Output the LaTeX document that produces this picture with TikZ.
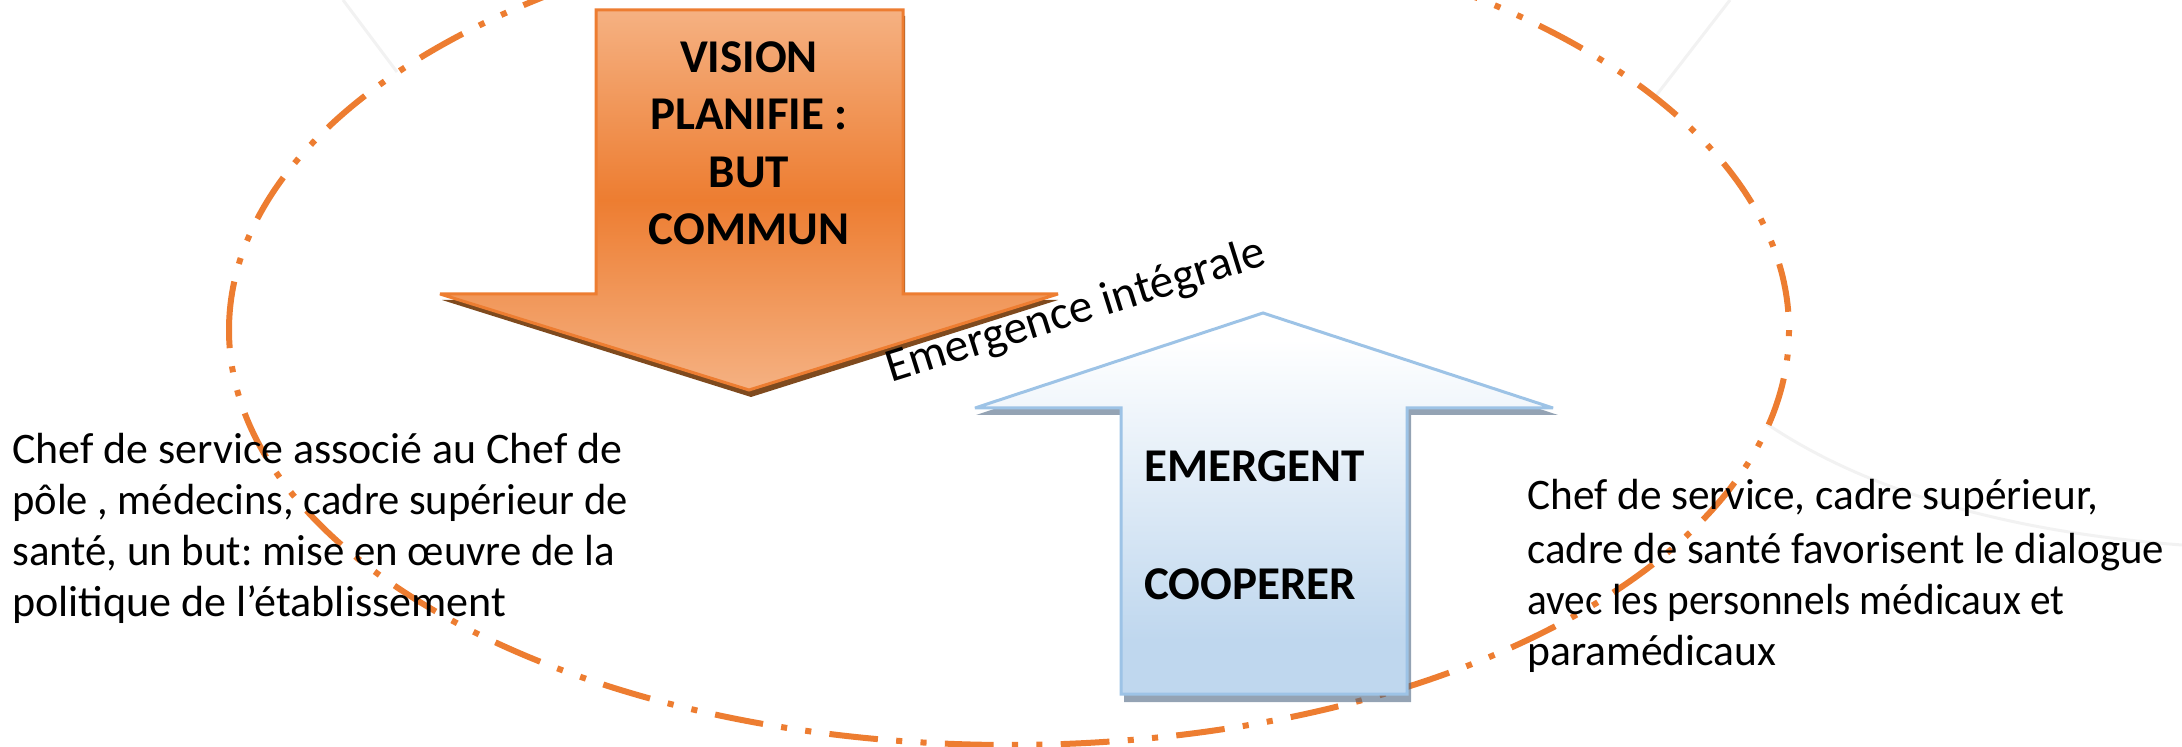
\documentclass[tikz,border=0pt]{standalone}
\usepackage{fontspec}
\setmainfont{Carlito}
\frenchspacing
\definecolor{orangeline}{HTML}{ED7D31}
\definecolor{orangelight}{HTML}{F5B182}
\definecolor{orangeshadow}{HTML}{7F4A1E}
\definecolor{blueline}{HTML}{9DC3E6}
\definecolor{bluefill}{HTML}{BFD7EE}
\definecolor{blueshadow}{HTML}{4D6682}
\pgfdeclareverticalshading{upblue}{100bp}{color(0bp)=(bluefill); color(32bp)=(bluefill); color(71.5bp)=(white); color(100bp)=(white)}
\tikzset{
  ring/.style={draw=orangeline,line width=3pt,dash pattern=on 24.4pt off 9.15pt on 3.05pt off 9.15pt on 3.05pt off 9.15pt},
  faint/.style={draw=black!5,line width=1.5pt},
  arrowshape/.style={line width=1.5pt,miter limit=2},
  body/.style={font=\fontsize{21.8}{26}\selectfont,inner sep=0pt,anchor=base west},
  boldtext/.style={font=\fontsize{23.5}{29}\selectfont\bfseries,inner sep=0pt,anchor=base},
}
\begin{document}
\begin{tikzpicture}[x=0.5pt,y=-0.5pt]
\useasboundingbox (0,0) rectangle (2182,747);
\clip (0,0) rectangle (2182,747);
\draw[faint] (343,0) -- (397,72);
\draw[faint] (1730,0) -- (1655,97);
\draw[faint] (1767,424) .. controls (1850,480) and (1980,530) .. (2182,545);
\draw[ring] (229,330) arc[start angle=180,end angle=540,x radius=780,y radius=415];
% down arrow
\fill[orangeshadow,miter limit=2] (598,16) -- (905,16) -- (905,300) -- (1058,300) -- (751,397) -- (442,300) -- (598,300) -- cycle;
\draw[arrowshape,draw=orangeline,top color=orangelight,bottom color=orangelight,middle color=orangeline]
  (596,10) -- (903,10) -- (903,294) -- (1058,294) -- (749,390) -- (440,294) -- (596,294) -- cycle;
% up arrow
\fill[blueshadow,fill opacity=.6] (1124,702) -- (1411,702) -- (1411,415) -- (1558,415) -- (1266,319) -- (976,415) -- (1124,415) -- cycle;
\draw[arrowshape,draw=blueline,shading=upblue]
  (1121,694) -- (1407,694) -- (1407,408) -- (1553,408) -- (1263,313) -- (975,408) -- (1121,408) -- cycle;
\node[boldtext] (v1) at (749,73) {VISION};
\node[boldtext] (v2) at (749,130) {PLANIFIE :};
\node[boldtext] (v3) at (749,188) {BUT};
\node[boldtext] (v4) at (749,245) {COMMUN};
\node[boldtext,anchor=base west] (e1) at (1144,482) {EMERGENT};
\node[boldtext,anchor=base west] (e2) at (1144,600) {COOPERER};
\node[font=\fontsize{23.7}{28}\selectfont,inner sep=0pt,anchor=base west,rotate=17.4] (em) at (891,383) {Emergence intégrale};
\node[body] (l1) at (12,464) {\scalebox{1.007}[1]{Chef de service associé au Chef de}};
\node[body] (l2) at (12,515) {\scalebox{.976}[1]{pôle , médecins, cadre supérieur de}};
\node[body] (l3) at (12,566) {\scalebox{.982}[1]{santé, un but: mise en œuvre de la}};
\node[body] (l4) at (12,617) {\scalebox{1.011}[1]{politique de l’établissement}};
\node[body] (r1) at (1527,510) {\scalebox{.993}[1]{Chef de service, cadre supérieur,}};
\node[body] (r2) at (1527,564) {\scalebox{.983}[1]{cadre de santé favorisent le dialogue}};
\node[body] (r3) at (1527,615) {\scalebox{.946}[1]{avec les personnels médicaux et}};
\node[body] (r4) at (1527,665) {paramédicaux};
\end{tikzpicture}
\end{document}
